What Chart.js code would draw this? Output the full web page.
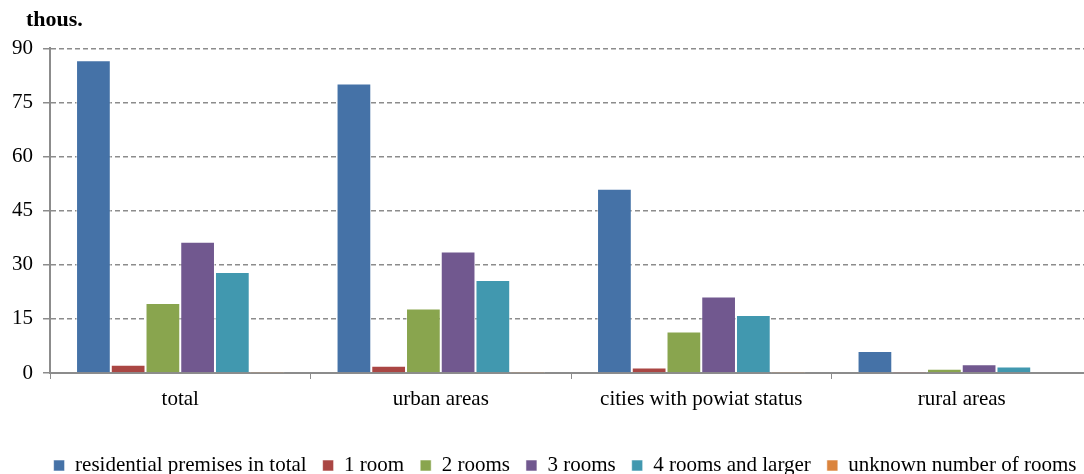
<!DOCTYPE html>
<html>
<head>
<meta charset="utf-8">
<script src="https://cdn.jsdelivr.net/npm/chart.js@4"></script>
<style>
  body { margin: 0; overflow: hidden; background: #fff; }
  #wrap { width: 1092px; height: 474px; }
</style>
</head>
<body>
<div id="wrap"><canvas id="ChartRooms"></canvas></div>
<script>
const categorias = ['total', 'urban areas', 'cities with powiat status', 'rural areas'];

const total = [86.7, 80.3, 51.1, 6.1];
const umPokoj = [2.3, 2.0, 1.5, 0.1];
const doisPokoje = [19.4, 17.9, 11.5, 1.2];
const tresPokoje = [36.4, 33.7, 21.2, 2.4];
const quatroMais = [28.0, 25.8, 16.1, 1.8];
const desconhecido = [0.1, 0.1, 0.05, 0];

const yTicks = [0, 15, 30, 45, 60, 75, 90];

const serif = 'Liberation Serif, "Times New Roman", serif';

function serie(label, dados, cor) {
    return {
        label: label,
        data: dados,
        backgroundColor: cor,
        borderColor: 'rgba(255,255,255,0.55)',
        borderWidth: 1,
        categoryPercentage: 0.8,
        barPercentage: 1.0
    };
}

// ajusta titulo e legenda para as posicoes do original
const ajustaCaixas = {
    id: 'ajustaCaixas',
    afterLayout(chart) {
        const leg = chart.legend;
        leg.top = 439;
        leg.bottom = 480;
        leg.left = 32;
        leg.right = 1098;
        const tit = chart.titleBlock;
        if (tit) {
            tit.left = 26;
        }
    }
};

const chartRooms = new Chart(document.getElementById('ChartRooms'), {
    type: 'bar',
    data: {
        labels: categorias,
        datasets: [
            serie('residential premises in total', total, '#4572A7'),
            serie('1 room', umPokoj, '#AA4643'),
            serie('2 rooms', doisPokoje, '#89A54E'),
            serie('3 rooms', tresPokoje, '#71588F'),
            serie('4 rooms and larger', quatroMais, '#4198AF'),
            serie('unknown number of rooms', desconhecido, '#DB843D')
        ]
    },
    plugins: [ajustaCaixas],
    options: {
        responsive: true,
        maintainAspectRatio: false,
        animation: false,
        layout: { padding: 0 },
        plugins: {
            tooltip: { enabled: false },
            title: {
                display: true,
                text: 'thous.',
                align: 'start',
                color: '#000',
                font: { family: serif, size: 22, weight: 'bold' },
                padding: { top: 7, bottom: 15 }
            },
            legend: {
                position: 'bottom',
                maxHeight: 30,
                labels: {
                    color: '#000',
                    font: { family: serif, size: 21 },
                    boxWidth: 11,
                    boxHeight: 11,
                    padding: 16
                }
            }
        },
        scales: {
            x: {
                grid: {
                    display: true,
                    drawOnChartArea: false,
                    offset: true,
                    color: '#8c8c8c',
                    tickLength: 6
                },
                border: { color: '#8c8c8c', width: 2 },
                ticks: {
                    color: '#000',
                    font: { family: serif, size: 21 },
                    padding: 8
                },
                afterFit: (scale) => { scale.height = 71; }
            },
            y: {
                min: 0,
                max: 90,
                afterBuildTicks: (scale) => {
                    scale.ticks = yTicks.map(v => ({ value: v }));
                },
                grid: {
                    color: '#8c8c8c',
                    lineWidth: 1.5,
                    tickLength: 7,
                    tickBorderDash: []
                },
                border: { color: '#8c8c8c', width: 2, dash: [5, 3] },
                ticks: {
                    color: '#000',
                    font: { family: serif, size: 21 },
                    padding: 10
                },
                afterFit: (scale) => { scale.width = 50; }
            }
        }
    }
});
</script>
</body>
</html>
